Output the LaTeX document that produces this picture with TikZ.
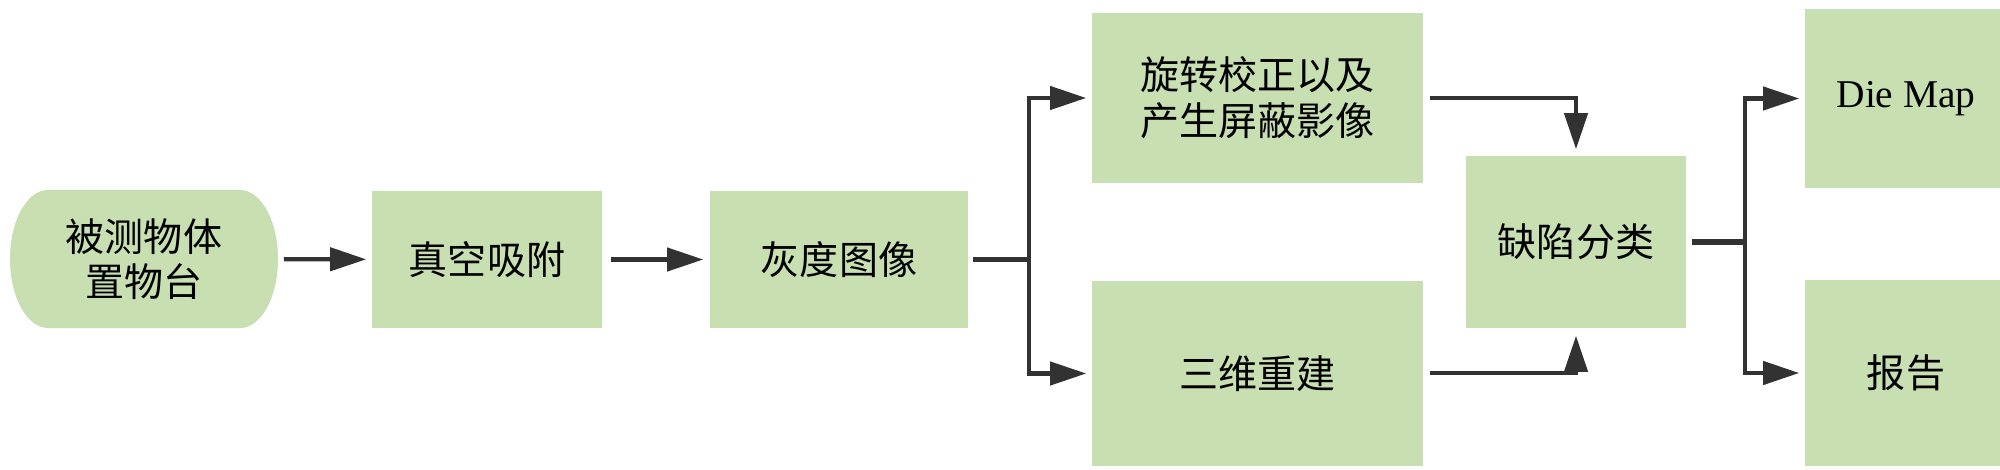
\documentclass[tikz,border=0pt]{standalone}
\usepackage{fontspec}
\setmainfont{Liberation Serif}
\newfontfamily\cjkfont{Noto Sans CJK SC}
\usetikzlibrary{arrows.meta}
\definecolor{boxgreen}{RGB}{200,223,178}
\definecolor{linegray}{RGB}{50,50,50}
\begin{document}
\begin{tikzpicture}[x=0.01cm,y=-0.01cm,
  box/.style={fill=boxgreen,draw=none,inner sep=0pt,align=center,
    font=\cjkfont\fontsize{11.1pt}{13.1pt}\selectfont},
  latinbox/.style={box,font=\fontsize{11.2pt}{13.1pt}\selectfont},
  plain/.style={draw=none,fill=none,inner sep=0pt,align=center,
    font=\cjkfont\fontsize{11.1pt}{12.8pt}\selectfont},
  conn/.style={draw=linegray,line width=1.2pt},
  stem/.style={draw=linegray,line width=1.5pt},
  arr/.style={conn,-{Triangle[length=0.36cm,width=0.23cm]}}
]
\useasboundingbox (0,0) rectangle (2000,470);

% start terminal (rounded ends)
\fill[boxgreen] (48,190) -- (240,190)
  arc[start angle=90,end angle=-90,x radius=0.38cm,y radius=0.69cm]
  -- (48,328)
  arc[start angle=270,end angle=90,x radius=0.38cm,y radius=0.69cm] -- cycle;
\node[plain,minimum width=2.68cm,minimum height=1.38cm] (n1) at (144,259) {被测物体\\置物台};

\node[box,minimum width=2.30cm,minimum height=1.37cm] (n2) at (487,259.5) {真空吸附};
\node[box,minimum width=2.58cm,minimum height=1.37cm] (n3) at (839,259.5) {灰度图像};
\node[box,minimum width=3.31cm,minimum height=1.70cm] (n4) at (1257.5,98) {旋转校正以及\\产生屏蔽影像};
\node[box,minimum width=3.31cm,minimum height=1.85cm] (n5) at (1257.5,373.5) {三维重建};
\node[box,minimum width=2.20cm,minimum height=1.72cm] (n6) at (1576,242) {缺陷分类};
\node[latinbox,minimum width=2.02cm,minimum height=1.79cm] (n7) at (1906,98.5) {Die Map};
\node[box,minimum width=2.02cm,minimum height=1.86cm] (n8) at (1906,373) {报告};

\coordinate (b1) at (1029,259.5);
\coordinate (b2) at (1745,242);

\draw[arr,shorten <=0.05cm,shorten >=0.05cm] (n1) -- (n2);
\draw[arr,shorten <=0.08cm,shorten >=0.06cm] (n2) -- (n3);

\draw[stem,shorten <=0.04cm] (n3.east) -- (b1);
\draw[arr,shorten >=0.05cm] (b1) |- (n4);
\draw[arr,shorten >=0.05cm] (b1) |- (n5);

\draw[arr,shorten <=0.06cm,shorten >=0.06cm] (n4) -| (n6);
\draw[arr,shorten <=0.06cm,shorten >=0.07cm] (n5.east |- 0,373) -| (n6);

\draw[stem,shorten <=0.05cm] (n6.east) -- (b2);
\draw[arr,shorten >=0.05cm] (b2) |- (n7);
\draw[arr,shorten >=0.05cm] (b2) |- (n8);
\end{tikzpicture}
\end{document}
